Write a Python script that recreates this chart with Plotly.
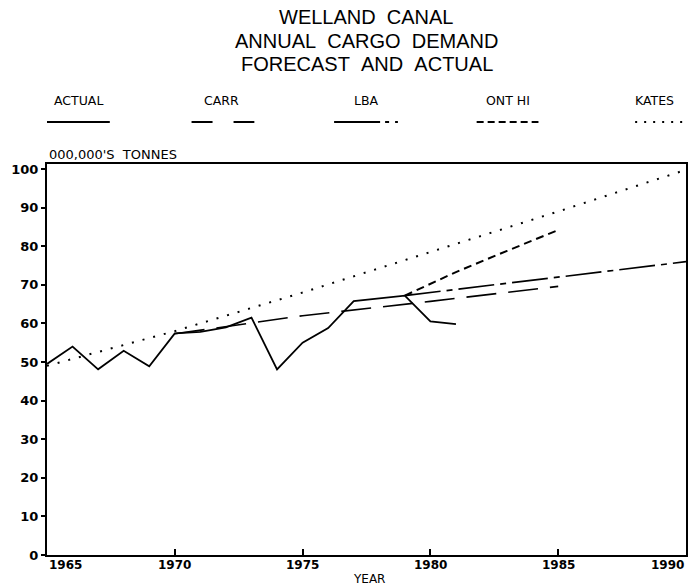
import plotly.graph_objects as go

# Welland Canal annual cargo, millions of tonnes
actual_years = list(range(1965, 1982))
actual = [49.5, 54.0, 48.1, 52.9, 48.9, 57.4, 57.8, 59.0, 61.5, 48.1,
          55.0, 58.8, 65.8, 66.5, 67.2, 60.5, 59.8]

carr_years = [1970, 1975, 1980, 1985]
carr = [57.3, 62.0, 65.7, 69.6]

lba_years = [1979, 1985, 1990]
lba = [67.2, 72.0, 76.0]

ont_hi_years = [1979, 1981, 1983, 1985]
ont_hi = [67.2, 73.3, 78.8, 84.2]

kates_years = [1965, 1970, 1975, 1980, 1985, 1990]
kates = [49.0, 58.0, 68.0, 78.5, 89.0, 99.8]

x_tick_years = [1965, 1970, 1975, 1980, 1985, 1990]
y_ticks = list(range(0, 101, 10))

series_names = ["ACTUAL", "CARR", "LBA", "ONT HI", "KATES"]
title_lines = ["WELLAND\u00a0\u00a0CANAL",
               "ANNUAL\u00a0\u00a0CARGO\u00a0\u00a0DEMAND",
               "FORECAST\u00a0\u00a0AND\u00a0\u00a0ACTUAL"]

FONT = "DejaVu Sans"
TITLE_FONT = "Liberation Sans"
INK = "black"

styles = {
    "ACTUAL": dict(dash="solid", width=1.8),
    "CARR": dict(dash="30px,12px", width=1.6),
    "LBA": dict(dash="36px,6px,6px,6px", width=1.6),
    "ONT HI": dict(dash="8px,5px", width=2.0),
    "KATES": dict(dash="2px,9px", width=2.0),
}
data = {
    "ACTUAL": (actual_years, actual),
    "CARR": (carr_years, carr),
    "LBA": (lba_years, lba),
    "ONT HI": (ont_hi_years, ont_hi),
    "KATES": (kates_years, kates),
}

fig = go.Figure()
for name in ["KATES", "CARR", "LBA", "ONT HI", "ACTUAL"]:
    xs, ys = data[name]
    fig.add_trace(go.Scatter(
        x=xs, y=ys, mode="lines", name=name, showlegend=False,
        line=dict(color=INK, **styles[name]),
    ))

W, H = 691, 586
L, R, T, B = 47, 3, 164, 31
pw, ph = W - L - R, H - T - B


def px(xp):
    return (xp - L) / pw


def py(yp):
    return (H - B - yp) / ph


annotations = []
shapes = []

# title block
for i, line in enumerate(title_lines):
    annotations.append(dict(
        text=line, xref="paper", yref="paper", x=px(368), y=py(17 + 23.5 * i),
        xanchor="center", yanchor="middle", showarrow=False,
        font=dict(family=TITLE_FONT, size=20, color=INK),
    ))

# legend row: label above a sample stroke
legend_layout = {
    "ACTUAL": (79, 47, 110, "solid"),
    "CARR": (222, 192, 255, "21px,21px"),
    "LBA": (368, 335, 399, "46px,5px,4px,6px,3px"),
    "ONT HI": (509, 478, 540, "7px,4px"),
    "KATES": (656, 637, 691, "2px,7px"),
}
for name in series_names:
    cx, x0, x1, dash = legend_layout[name]
    annotations.append(dict(
        text=name, xref="paper", yref="paper", x=px(cx), y=py(100),
        xanchor="center", yanchor="middle", showarrow=False,
        font=dict(family=FONT, size=12.5, color=INK),
    ))
    shapes.append(dict(
        type="line", xref="paper", yref="paper",
        x0=px(x0), x1=px(x1), y0=py(122), y1=py(122),
        line=dict(color=INK, width=1.8, dash=dash),
    ))

# units label above the axis
annotations.append(dict(
    text="000,000'S\u00a0\u00a0TONNES", xref="paper", yref="paper", x=0, y=py(155),
    xanchor="left", yanchor="middle", showarrow=False,
    font=dict(family=FONT, size=13, color=INK),
))

# year labels under the axis (end labels kept inside the frame)
for yr in x_tick_years:
    anchor = "left" if yr == x_tick_years[0] else ("right" if yr == x_tick_years[-1] else "center")
    annotations.append(dict(
        text=str(yr), x=yr, xref="x", yref="paper", y=py(565),
        xanchor=anchor, yanchor="middle", showarrow=False,
        font=dict(family=FONT, size=12, color=INK, weight="bold"),
    ))
annotations.append(dict(
    text="YEAR", xref="paper", yref="paper", x=px(370), y=py(579),
    xanchor="center", yanchor="middle", showarrow=False,
    font=dict(family=FONT, size=12, color=INK),
))

fig.update_layout(
    width=W, height=H,
    margin=dict(l=L, r=R, t=T, b=B, pad=0),
    paper_bgcolor="white", plot_bgcolor="white",
    annotations=annotations, shapes=shapes,
    showlegend=False,
)
fig.update_xaxes(
    range=[1965, 1990], tickvals=x_tick_years[1:-1], showticklabels=False,
    ticks="inside", ticklen=6, tickwidth=1.5, tickcolor=INK,
    showgrid=False, zeroline=False,
    showline=True, linewidth=2, linecolor=INK, mirror=True,
)
fig.update_yaxes(
    range=[0, 101.3], tickvals=y_ticks,
    ticks="outside", ticklen=4, tickwidth=1.5, tickcolor=INK,
    tickfont=dict(family=FONT, size=13, color=INK, weight="bold"),
    showgrid=False, zeroline=False,
    showline=True, linewidth=2, linecolor=INK, mirror=True,
)

fig.write_html("out.html")
